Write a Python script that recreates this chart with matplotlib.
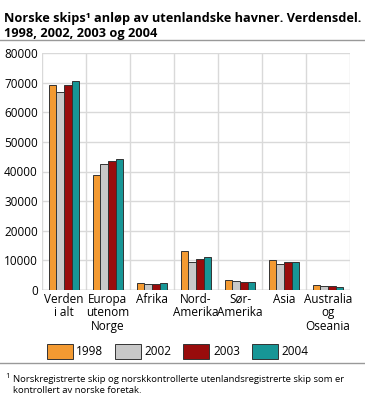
import matplotlib

matplotlib.use("Agg")

import matplotlib.pyplot as plt
import numpy as np
from matplotlib.lines import Line2D

plt.rcParams["font.family"] = ["Open Sans", "DejaVu Sans"]

categories = ["Verden\ni alt", "Europa\nutenom\nNorge", "Afrika", "Nord-\nAmerika",
              "Sør-\nAmerika", "Asia", "Australia\nog\nOseania"]
years = ["1998", "2002", "2003", "2004"]
v1998 = [69300, 38750, 2470, 13290, 3380, 10140, 1580]
v2002 = [67000, 42450, 2140, 9460, 2930, 8780, 1460]
v2003 = [69300, 43580, 1910, 10590, 2700, 9460, 1240]
v2004 = [70400, 44150, 2360, 11260, 2590, 9350, 1010]
series = [v1998, v2002, v2003, v2004]
colors = ["#f39a32", "#c8c8c8", "#990c0c", "#179696"]

fig = plt.figure(figsize=(3.65, 4.0), dpi=100)
ax = fig.add_axes([0.115, 0.275, 0.844, 0.5925])

x = np.arange(len(categories))
w = 0.175
for i, (vals, col) in enumerate(zip(series, colors)):
    ax.bar(x + (i - 1.5) * w, vals, w, color=col, edgecolor="#333333",
           linewidth=0.7, label=years[i], zorder=3)

ax.set_xlim(-0.5, len(categories) - 0.5)
ax.set_ylim(0, 80000)
ax.set_yticks(np.arange(0, 80001, 10000))
ax.set_xticks(x)
ax.set_xticklabels(categories, fontsize=8.5, linespacing=1.05)
ax.tick_params(axis="y", labelsize=8.5, length=0, pad=3)
ax.tick_params(axis="x", length=0, pad=2)
ax.set_xticks(np.arange(-0.5, len(categories), 1.0), minor=True)
ax.tick_params(axis="x", which="minor", length=0)
ax.grid(axis="y", color="#d9d9d9", linewidth=1.0, zorder=0)
ax.grid(axis="x", which="minor", color="#d9d9d9", linewidth=1.0, zorder=0)
ax.grid(axis="x", which="major", visible=False)
for s in ax.spines.values():
    s.set_visible(False)
ax.axhline(0, color="#bbbbbb", linewidth=1.0, zorder=2)

fig.legend(loc="upper left", bbox_to_anchor=(0.115, 0.152), ncol=4, frameon=False,
           fontsize=8.5, handlelength=2.2, handleheight=1.6, handletextpad=0.3,
           columnspacing=1.0, borderaxespad=0)

fig.text(0.01, 0.97, "Norske skips¹ anløp av utenlandske havner. Verdensdel.\n1998, 2002, 2003 og 2004",
         fontsize=9.2, fontweight="bold", va="top", ha="left", linespacing=1.2)
fig.add_artist(Line2D([0.0, 1.0], [0.9, 0.9], color="#999999", linewidth=1.0))
fig.add_artist(Line2D([0.0, 1.0], [0.093, 0.093], color="#999999", linewidth=1.0))
fig.text(0.015, 0.067, "1", fontsize=5.5, va="top", ha="left")
fig.text(0.035, 0.062, "Norskregistrerte skip og norskkontrollerte utenlandsregistrerte skip som er\n"
         "kontrollert av norske foretak.", fontsize=6.8, va="top", ha="left", linespacing=1.2)

fig.savefig("out.png", dpi=100)
